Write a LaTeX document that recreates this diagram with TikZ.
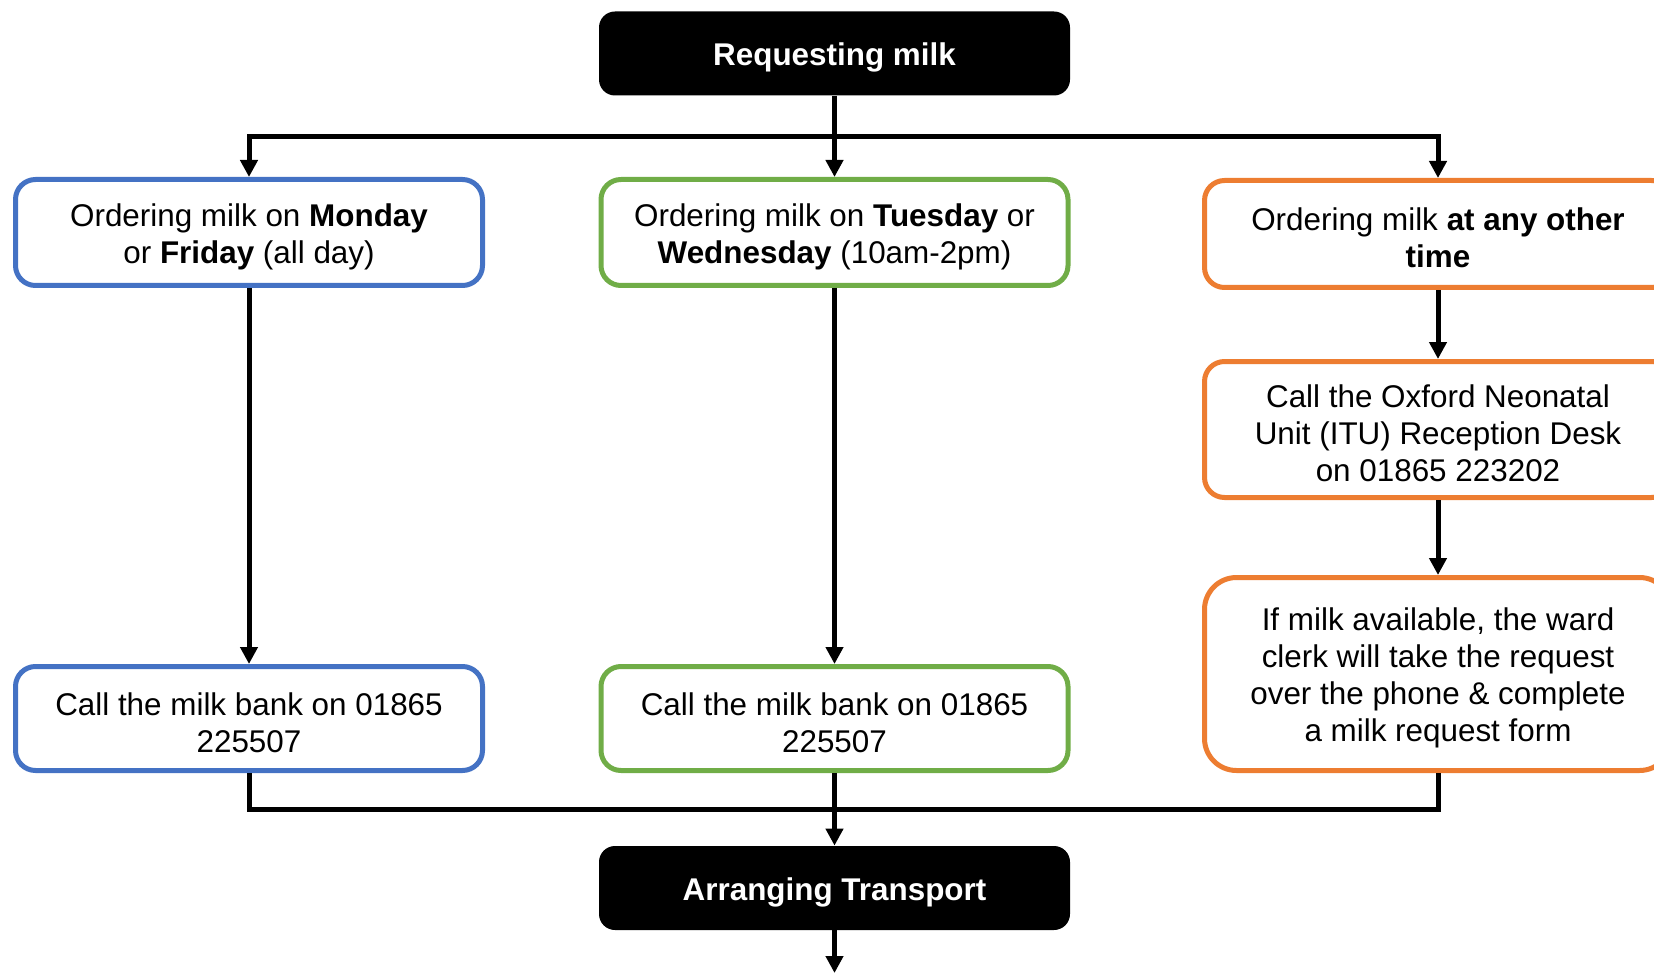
\documentclass[tikz,border=0pt]{standalone}
\usepackage{fontspec}
\setmainfont{Liberation Sans}
\usetikzlibrary{arrows.meta}
\definecolor{boxblue}{HTML}{4472C4}
\definecolor{boxgreen}{HTML}{70AD47}
\definecolor{boxorange}{HTML}{ED7D31}
\newcommand{\lowerstrut}{\rule{0pt}{15.4pt}}
\begin{document}
\begin{tikzpicture}
[x=0.5pt, y=-0.5pt,
  milkbox/.style={rectangle, rounded corners=10pt, line width=2.5pt, fill=white,
    align=center, minimum width=233.5pt, inner sep=0pt,
    font=\fontsize{15.7}{18.5}\selectfont},
  headbox/.style={rectangle, rounded corners=8pt, fill=black, text=white,
    minimum width=235.5pt, minimum height=42pt, inner sep=0pt,
    font=\fontsize{15.7}{18.5}\selectfont\bfseries, execute at begin node=\lowerstrut},
  conn/.style={line width=2.5pt, -{Triangle[length=8.5pt,width=8.5pt]}},
  link/.style={line width=2.5pt}]
  \useasboundingbox (0,0) rectangle (1654,973);
  \node[headbox] (Request) at (834.5,53.5) {Requesting milk};
  \node[milkbox, draw=boxblue, minimum height=53pt] (Monday) at (249,232.5)
    {\lowerstrut Ordering milk on \textbf{Monday}\\or \textbf{Friday} (all day)};
  \node[milkbox, draw=boxgreen, minimum height=53pt] (Tuesday) at (834.5,232.5)
    {\lowerstrut Ordering milk on \textbf{Tuesday} or\\\textbf{Wednesday} (10am-2pm)};
  \node[milkbox, draw=boxorange, minimum height=53.5pt] (Other) at (1438,234)
    {\lowerstrut Ordering milk \textbf{at any other}\\\textbf{time}};
  \node[milkbox, draw=boxorange, minimum height=68pt] (Reception) at (1438,429.5)
    {\lowerstrut Call the Oxford Neonatal\\Unit (ITU) Reception Desk\\on 01865 223202};
  \node[milkbox, draw=boxorange, rounded corners=16pt, minimum height=96.5pt] (Clerk) at (1438,674)
    {\lowerstrut If milk available, the ward\\clerk will take the request\\over the phone \& complete\\a milk request form};
  \node[milkbox, draw=boxblue, minimum height=52pt] (BankMon) at (249,718.5)
    {\lowerstrut Call the milk bank on 01865\\225507};
  \node[milkbox, draw=boxgreen, minimum height=52pt] (BankTue) at (834.5,718.5)
    {\lowerstrut Call the milk bank on 01865\\225507};
  \node[headbox] (Transport) at (834.5,888) {Arranging Transport};
  \coordinate (Split) at (834.5,137);
  \coordinate (Join) at (834.5,809);
  \coordinate (Exit) at (834.5,973);

  \draw[conn] (Request) -- (Tuesday);
  \draw[conn] (Split) -| (Monday);
  \draw[conn] (Split) -| (Other);
  \draw[conn] (Monday) -- (BankMon);
  \draw[conn] (Tuesday) -- (BankTue);
  \draw[conn] (Other) -- (Reception);
  \draw[conn] (Reception) -- (Clerk);
  \draw[link] (BankMon) |- (Join);
  \draw[link] (Clerk) |- (Join);
  \draw[conn] (BankTue) -- (Transport);
  \draw[conn] (Transport) -- (Exit);
\end{tikzpicture}
\end{document}
